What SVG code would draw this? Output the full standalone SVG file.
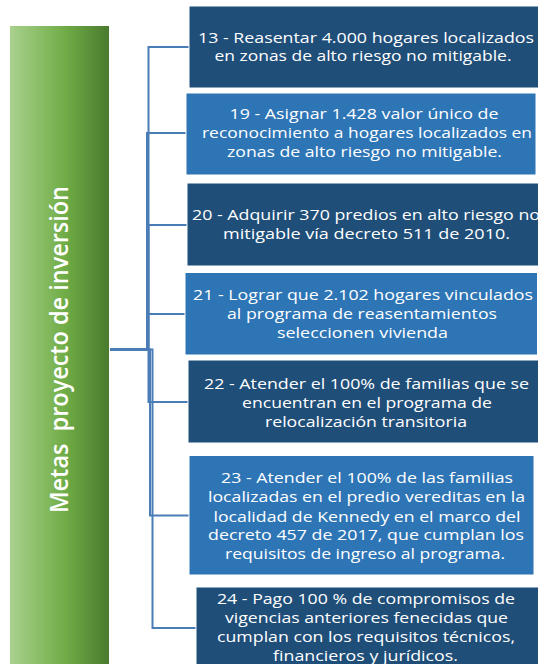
<svg xmlns="http://www.w3.org/2000/svg" width="538" height="664" viewBox="0 0 538 664">
<defs>
<linearGradient id="green" x1="0" y1="0" x2="1" y2="0">
<stop offset="0" stop-color="#a9d18e"/>
<stop offset="0.55" stop-color="#70ad47"/>
<stop offset="1" stop-color="#4a7a2e"/>
</linearGradient>
</defs>
<style>
.dark{fill:#1f4e79;stroke:#ffffff;stroke-width:1}
.light{fill:#2e75b6;stroke:#ffffff;stroke-width:1}
.t{font-family:"Open Sans","Liberation Sans",sans-serif;font-size:14.5px;fill:#ffffff;text-anchor:middle}
.conn{fill:none;stroke:#4a7cb5;stroke-width:2}
.title{font-family:"Open Sans","Liberation Sans",sans-serif;font-size:25.5px;font-weight:600;fill:#ffffff;text-anchor:middle;white-space:pre}
</style>
<rect width="538" height="664" fill="#ffffff"/>
<g id="root">
<rect x="10" y="26" width="99" height="640" fill="url(#green)"/>
<text class="title" transform="translate(68.3,349.5) rotate(-90)" textLength="327" lengthAdjust="spacingAndGlyphs">Metas  proyecto de inversión</text>
</g>
<g id="connectors">
<path class="conn" d="M110,349.5 H148.5 V47 H189"/>
<path class="conn" d="M110,349.5 H147 V133 H186"/>
<path class="conn" d="M110,349.5 H148.5 V225 H187"/>
<path class="conn" d="M110,349.5 H147 V314 H185"/>
<path class="conn" d="M110,349.5 H148.5 V402 H188"/>
<path class="conn" d="M110,349.5 H150 V515.5 H189"/>
<path class="conn" d="M110,349.5 H152.5 V628 H196"/>
</g>
<g id="m13">
<rect class="dark" x="189" y="6" width="352" height="82"/>
<text class="t" x="366" y="42.5" textLength="336" lengthAdjust="spacingAndGlyphs">13 - Reasentar 4.000 hogares localizados</text>
<text class="t" x="363" y="61" textLength="297" lengthAdjust="spacingAndGlyphs">en zonas de alto riesgo no mitigable.</text>
</g>
<g id="m19">
<rect class="light" x="186" y="93" width="350" height="82"/>
<text class="t" x="364" y="119.3" textLength="269" lengthAdjust="spacingAndGlyphs">19 - Asignar 1.428 valor único de</text>
<text class="t" x="367" y="138.3" textLength="330" lengthAdjust="spacingAndGlyphs">reconocimiento a hogares localizados en</text>
<text class="t" x="364.5" y="157.3" textLength="275" lengthAdjust="spacingAndGlyphs">zonas de alto riesgo no mitigable.</text>
</g>
<g id="m20">
<rect class="dark" x="187" y="183" width="354" height="83"/>
<text class="t" x="366" y="220" textLength="348" lengthAdjust="spacingAndGlyphs">20 - Adquirir 370 predios en alto riesgo no</text>
<text class="t" x="366.5" y="238.5" textLength="287" lengthAdjust="spacingAndGlyphs">mitigable vía decreto 511 de 2010.</text>
</g>
<g id="m21">
<rect class="light" x="185" y="272.5" width="352.5" height="82.5"/>
<text class="t" x="363" y="300" textLength="340" lengthAdjust="spacingAndGlyphs">21 - Lograr que 2.102 hogares vinculados</text>
<text class="t" x="362" y="319" textLength="270" lengthAdjust="spacingAndGlyphs">al programa de reasentamientos</text>
<text class="t" x="362.5" y="338" textLength="171" lengthAdjust="spacingAndGlyphs">seleccionen vivienda</text>
</g>
<g id="m22">
<rect class="dark" x="188" y="360" width="353" height="83"/>
<text class="t" x="366.5" y="389" textLength="325" lengthAdjust="spacingAndGlyphs">22 - Atender el 100% de familias que se</text>
<text class="t" x="367" y="408" textLength="250" lengthAdjust="spacingAndGlyphs">encuentran en el programa de</text>
<text class="t" x="366" y="426.5" textLength="202" lengthAdjust="spacingAndGlyphs">relocalización transitoria</text>
</g>
<g id="m23">
<rect class="light" x="189" y="455.5" width="345" height="119.5"/>
<text class="t" x="367" y="483.3" textLength="292" lengthAdjust="spacingAndGlyphs">23 - Atender el 100% de las familias</text>
<text class="t" x="366.5" y="502" textLength="317" lengthAdjust="spacingAndGlyphs">localizadas en el predio vereditas en la</text>
<text class="t" x="367" y="521.5" textLength="307" lengthAdjust="spacingAndGlyphs">localidad de Kennedy en el marco del</text>
<text class="t" x="366" y="540" textLength="316" lengthAdjust="spacingAndGlyphs">decreto 457 de 2017, que cumplan los</text>
<text class="t" x="365" y="558.5" textLength="280" lengthAdjust="spacingAndGlyphs">requisitos de ingreso al programa.</text>
</g>
<g id="m24">
<rect class="dark" x="196" y="587" width="345" height="80"/>
<text class="t" x="366" y="604" textLength="298" lengthAdjust="spacingAndGlyphs">24 - Pago 100 % de compromisos de</text>
<text class="t" x="366.5" y="623" textLength="283" lengthAdjust="spacingAndGlyphs">vigencias anteriores fenecidas que</text>
<text class="t" x="366" y="642" textLength="298" lengthAdjust="spacingAndGlyphs">cumplan con los requisitos técnicos,</text>
<text class="t" x="365.5" y="660.5" textLength="185" lengthAdjust="spacingAndGlyphs">financieros y jurídicos.</text>
</g>
</svg>
